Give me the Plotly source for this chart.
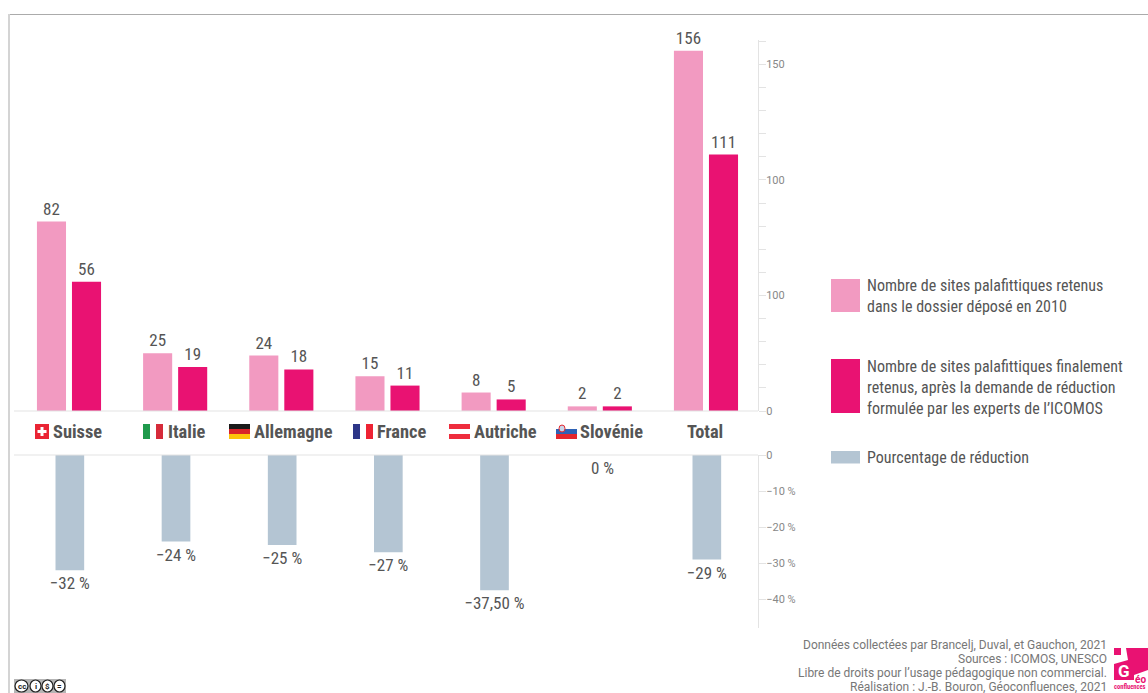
import plotly.graph_objects as go

countries = ["Suisse", "Italie", "Allemagne", "France", "Autriche", "Slovénie", "Total"]
sites_2010 = [82, 25, 24, 15, 8, 2, 156]
sites_final = [56, 19, 18, 11, 5, 2, 111]
reduction = [-32, -24, -25, -27, -37.5, 0, -29]
reduction_labels = ["−32 %", "−24 %", "−25 %", "−27 %", "−37,50 %", "0 %", "−29 %"]
upper_tickvals = [0, 50, 100, 150]
upper_ticktext = ["0", "100", "100", "150"]
lower_tickvals = [0, -10, -20, -30, -40]
lower_ticktext = ["0", "−10 %", "−20 %", "−30 %", "−40 %"]
legend_labels = [
    "Nombre de sites palafittiques retenus<br>dans le dossier déposé en 2010",
    "Nombre de sites palafittiques finalement<br>retenus, après la demande de réduction<br>formulée par les experts de l’ICOMOS",
    "Pourcentage de réduction",
]
credits = [
    "Données collectées par Brancelj, Duval, et Gauchon, 2021",
    "Sources : ICOMOS, UNESCO",
    "Libre de droits pour l’usage pédagogique non commercial.",
    "Réalisation : J.-B. Bouron, Géoconfluences, 2021",
]

W, H = 1148, 693
PINK, MAGENTA, BLUE = "#f29ac1", "#e91272", "#b4c5d3"
TXT = "#555555"
FONT = "Roboto"
NARROW = "Roboto Condensed, Roboto"

px = lambda v: v / W
py = lambda v: 1 - v / H

fig = go.Figure()
common = dict(textposition="outside", cliponaxis=False, constraintext="none",
              textfont=dict(family=NARROW, size=17, color=TXT), hoverinfo="skip",
              marker_line_width=0, showlegend=False)
fig.add_bar(x=countries, y=sites_2010, text=sites_2010, marker_color=PINK, name="2010", **common)
fig.add_bar(x=countries, y=sites_final, text=sites_final, marker_color=MAGENTA, name="final", **common)
fig.add_bar(x=countries, y=reduction, text=[t if v else "" for t, v in zip(reduction_labels, reduction)],
            marker_color=BLUE, name="réduction", yaxis="y2", width=0.27, offset=-0.127, **common)

shapes, ann = [], []

# a zero bar has no direction, so its label is set just below the line
for c, v, t in zip(countries, reduction, reduction_labels):
    if v == 0:
        ann.append(dict(text=t, xref="x", yref="y2", x=c, y=v, yanchor="top", xanchor="center", yshift=-1, xshift=3,
                        showarrow=False, font=dict(family=NARROW, size=17, color=TXT)))


def rect(x0, y0, x1, y1, color, line=None):
    shapes.append(dict(type="rect", xref="paper", yref="paper", x0=px(x0), x1=px(x1), y0=py(y0), y1=py(y1),
                       fillcolor=color, line=dict(width=0), layer="above"))


def hline(x0, x1, y, color, w=1):
    shapes.append(dict(type="line", xref="paper", yref="paper", x0=px(x0), x1=px(x1), y0=py(y), y1=py(y),
                       line=dict(color=color, width=w), layer="above"))


def vline(x, y0, y1, color, w=1):
    shapes.append(dict(type="line", xref="paper", yref="paper", x0=px(x), x1=px(x), y0=py(y0), y1=py(y1),
                       line=dict(color=color, width=w), layer="above"))


# frame
hline(9, W, 14.5, "#ababab", 1)
vline(9, 14, H, "#d4d4d4", 2)
# baselines
hline(14, 758, 411, "#e3e3e3", 1)
hline(14, 758, 455, "#e3e3e3", 1)

# country labels
label_centres = [77, 186.5, 293, 402, 505.5, 612, 705]
for name, c in zip(countries, label_centres):
    ann.append(dict(text=f"<b>{name}</b>", xref="paper", yref="paper", x=px(c), y=py(431.5), xanchor="center",
                    yanchor="middle", showarrow=False, font=dict(family=NARROW, size=18.4, color=TXT)))

# flags
rect(35, 424, 49, 439, "#ea2434")
rect(40.5, 427, 43.5, 436, "#ffffff")
rect(37.5, 430, 46.5, 433, "#ffffff")
rect(143, 424, 150, 439, "#1f9a4c")
rect(156, 424, 163, 439, "#d62b3a")
rect(229, 424, 250, 429, "#1a1a1a")
rect(229, 429, 250, 434, "#d8232a")
rect(229, 434, 250, 439, "#fcc30b")
rect(353, 424, 360, 439, "#2d3688")
rect(366, 424, 373, 439, "#ee2333")
rect(449, 424, 470, 429, "#ee2d3d")
rect(449, 434, 470, 439, "#ee2d3d")
rect(556, 429, 577, 434, "#2e62b5")
rect(556, 434, 577, 439, "#e5262d")
shapes.append(dict(type="circle", xref="paper", yref="paper", x0=px(559), x1=px(565), y0=py(425), y1=py(432),
                   fillcolor="#c9d6ea", line=dict(color="#e5262d", width=1), layer="above"))

# legend
rect(831, 279, 860, 312, PINK)
rect(831, 359, 860, 413, MAGENTA)
rect(831, 451, 860, 463.5, BLUE)
for text, y in zip(legend_labels, [296, 387, 457.5]):
    ann.append(dict(text=text, xref="paper", yref="paper", x=px(865), y=py(y), xanchor="left", yanchor="middle",
                    align="left", showarrow=False, font=dict(family=NARROW, size=16, color=TXT)))

# credits
for text, y in zip(credits, [645, 659, 673, 687]):
    ann.append(dict(text=text, xref="paper", yref="paper", x=px(1109), y=py(y), xanchor="right", yanchor="middle",
                    align="right", showarrow=False, font=dict(family=FONT, size=12, color="#777777")))

# logo
shapes.append(dict(type="path", xref="paper", yref="paper", layer="above", fillcolor=MAGENTA, line=dict(width=0),
                   path="M %f %f L %f %f L %f %f L %f %f L %f %f L %f %f L %f %f L %f %f Z" % (
                       px(1126), py(648), px(1148), py(648), px(1148), py(670), px(1134), py(675),
                       px(1134), py(680), px(1114), py(680), px(1114), py(664), px(1128), py(660))))
rect(1114, 648, 1121, 655, MAGENTA)
ann.append(dict(text="<b>G</b>", xref="paper", yref="paper", x=px(1124), y=py(671), xanchor="center", yanchor="middle",
                showarrow=False, font=dict(family=FONT, size=17, color="#ffffff")))
ann.append(dict(text="<b>éo</b>", xref="paper", yref="paper", x=px(1147), y=py(679), xanchor="right", yanchor="middle",
                showarrow=False, borderpad=0, font=dict(family=FONT, size=10, color=MAGENTA)))
ann.append(dict(text="<b>confluences</b>", xref="paper", yref="paper", x=px(1147), y=py(687), xanchor="right",
                yanchor="middle", showarrow=False, borderpad=0, font=dict(family=NARROW, size=6.5, color=MAGENTA)))

# licence badge
rect(14, 679, 66, 693, "#b5b5b5")
for a, b in [(15, 28), (30, 41), (42, 53), (54, 65)]:
    shapes.append(dict(type="circle", xref="paper", yref="paper", x0=px(a), x1=px(b), y0=py(680), y1=py(692),
                       fillcolor="#ffffff", line=dict(color="#222222", width=1.2), layer="above"))
for text, c in zip(["cc", "i", "$", "="], [21.5, 35.5, 47.5, 59.5]):
    ann.append(dict(text=f"<b>{text}</b>", xref="paper", yref="paper", x=px(c), y=py(686), xanchor="center",
                    yanchor="middle", showarrow=False, font=dict(family=FONT, size=8, color="#222222")))

axis_style = dict(side="right", showline=True, linecolor="#e3e3e3", linewidth=1, showgrid=False, zeroline=False,
                  ticks="outside", ticklen=7, tickcolor="#e3e3e3", tickwidth=1, automargin=False,
                  tickfont=dict(family=FONT, size=11, color="#888888"), anchor="x", ticklabelstandoff=-2)

fig.update_layout(
    width=W, height=H, margin=dict(l=0, r=0, t=0, b=0), paper_bgcolor="white", plot_bgcolor="white",
    barmode="group", bargap=0.34, bargroupgap=0.17, showlegend=False,
    xaxis=dict(type="category", categoryorder="array", categoryarray=countries, domain=[px(14), px(758)],
               range=[-0.518, 6.49], showticklabels=False, showline=False, showgrid=False, zeroline=False,
               ticks="", anchor="y", automargin=False),
    yaxis=dict(domain=[py(411), py(40)], range=[0, 160.6], tickmode="array", tickvals=upper_tickvals,
               ticktext=upper_ticktext, minor=dict(dtick=10, ticks="outside", ticklen=7, tickcolor="#e3e3e3",
                                                   tickwidth=1, showgrid=False), **axis_style),
    yaxis2=dict(domain=[py(628), py(455)], range=[-48, 0], tickmode="array", tickvals=lower_tickvals,
                ticktext=lower_ticktext, **axis_style),
    shapes=shapes, annotations=ann,
)
fig.write_html("out.html", config=dict(displayModeBar=False),
               post_script="document.body.style.margin='0';document.body.style.overflow='hidden';")
